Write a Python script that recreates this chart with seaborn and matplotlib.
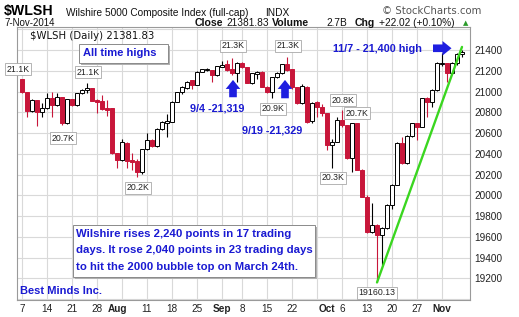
import matplotlib
matplotlib.use("Agg")
import matplotlib.pyplot as plt
import seaborn as sns
import pandas as pd
import numpy as np
from matplotlib.patches import Rectangle

# ---------------- data ----------------
opens = [21117, 20998, 20815, 20918, 20806,
         20838, 20934, 20870, 20944, 20693,
         20924, 20870, 20982, 21014, 21030,
         20918, 20912, 20838, 20838, 20404,
         20340, 20507, 20340, 20334, 20228,
         20443, 20533, 20475, 20636, 20700,
         20709, 20902, 20998, 21030, 21111,
         21062, 21191, 21207, 21207, 21159,
         21240, 21265, 21213, 21175,
         21278, 21233, 21085, 21170, 21191,
         21046, 20998, 21136, 21175, 21265,
         21213, 21040, 20890, 21046, 20720,
         20902, 20854, 20790, 20485, 20517,
         20726, 20677, 20356, 20694, 20244,
         19987, 19650, 19714, 19618, 19682,
         19907, 20100, 20501, 20309, 20572,
         20694, 20662, 20935, 20903, 21015,
         21265, 21272, 21176, 21272, 21360]
highs = [21125, 21000, 20925, 20922, 20886,
         20982, 20998, 20982, 20950, 20930,
         20930, 20990, 21025, 21078, 21035,
         20930, 20966, 20918, 20840, 20410,
         20540, 20510, 20404, 20350, 20450,
         20600, 20545, 20645, 20715, 20780,
         20910, 21000, 21050, 21100, 21115,
         21195, 21220, 21225, 21210, 21250,
         21297, 21300, 21319, 21285,
         21285, 21240, 21180, 21200, 21195,
         21050, 21140, 21190, 21270, 21329,
         21215, 21045, 21069, 21050, 20900,
         20910, 20880, 20795, 20540, 20758,
         20822, 20680, 20700, 20700, 20250,
         20000, 19923, 19720, 19690, 19920,
         20110, 20510, 20565, 20580, 20700,
         20700, 20940, 20945, 21020, 21280,
         21368, 21275, 21280, 21370, 21405]
lows = [20990, 20757, 20805, 20668, 20757,
        20830, 20757, 20865, 20677, 20690,
        20860, 20865, 20975, 20982, 20905,
        20790, 20825, 20764, 20400, 20260,
        20335, 20260, 20244, 20180, 20210,
        20440, 20465, 20470, 20630, 20565,
        20705, 20895, 20980, 21025, 21021,
        21060, 21185, 21195, 21095, 21150,
        21235, 21200, 21160, 21095,
        21225, 21080, 21070, 21120, 21040,
        20990, 20934, 21130, 21170, 21200,
        21025, 20880, 20880, 20700, 20700,
        20750, 20760, 20440, 20260, 20510,
        20660, 20350, 20228, 20240, 19980,
        19640, 19640, 19160.13, 19329, 19675,
        19870, 20095, 20300, 20300, 20565,
        20533, 20655, 20758, 20850, 21010,
        21250, 21095, 21170, 21260, 21330]
closes = [20998, 20815, 20918, 20806, 20838,
          20934, 20870, 20944, 20693, 20924,
          20870, 20982, 21014, 21030, 20912,
          20902, 20831, 20822, 20404, 20340,
          20517, 20334, 20324, 20228, 20443,
          20533, 20475, 20636, 20709, 20719,
          20902, 20998, 21046, 21095, 21062,
          21191, 21213, 21213, 21159, 21246,
          21255, 21207, 21175, 21278,
          21233, 21085, 21175, 21192, 21046,
          20998, 21136, 21175, 21265, 21207,
          21040, 20890, 21050, 20709, 20890,
          20854, 20790, 20485, 20517, 20726,
          20677, 20356, 20694, 20244, 19987,
          19650, 19714, 19618, 19682, 19907,
          20100, 20501, 20309, 20572, 20694,
          20662, 20935, 20903, 21015, 21272,
          21272, 21176, 21272, 21360, 21381.83]

tick_pos = [0, 5, 10, 15, 19, 25, 30, 35, 40, 44, 49, 54, 61, 64, 69, 74, 79, 84]
tick_labels = ["7", "14", "21", "28", "Aug", "11", "18", "25", "Sep", "8",
               "15", "22", "Oct", "6", "13", "20", "27", "Nov"]
week_grid = [0, 5, 10, 15, 20, 25, 30, 35, 40, 44, 49, 54, 59, 64, 69, 74, 79, 84]
y_ticks = [19200, 19400, 19600, 19800, 20000, 20200, 20400, 20600, 20800, 21000, 21200, 21400]

# peak / trough labels: (index, value, text)
peak_labels = [(-0.8, 21217, "21.1K"), (13.2, 21188, "21.1K"), (8.2, 20552, "20.7K"),
               (23.2, 20071, "20.2K"), (42.2, 21439, "21.3K"), (53.2, 21439, "21.3K"),
               (50.2, 20832, "20.9K"), (64.2, 20918, "20.8K"), (67.0, 20793, "20.7K"),
               (62.2, 20167, "20.3K"), (71.0, 19059, "19160.13")]

trend_x = [71, 88]
trend_y = [19160.13, 21430]

df = pd.DataFrame({"i": range(len(closes)), "open": opens, "high": highs,
                   "low": lows, "close": closes})

# ---------------- style ----------------
sns.set_style("white")
plt.rcParams["font.family"] = ["Liberation Sans", "DejaVu Sans"]

W, H = 519, 317
fig = plt.figure(figsize=(W / 100, H / 100), dpi=100)
ax = fig.add_axes([17 / W, 1 - 300 / H, (470 - 17) / W, (300 - 27) / H])
ax.set_xlim(-1, 89.6)
ax.set_ylim(18991, 21622)

RED = "#c8163a"
BLUE = "#1a1ad2"
GRID = "#d9d9d9"

# grid
for g in range(19000, 21700, 200):
    ax.axhline(g, color=GRID, lw=0.8, zorder=0)
for g in week_grid:
    ax.axvline(g, color=GRID, lw=0.8, zorder=0)

# candles
for _, r in df.iterrows():
    up = r["close"] >= r["open"]
    col = "black" if up else RED
    ax.vlines(r["i"], r["low"], r["high"], color=col, lw=0.8, zorder=2)
    lo = min(r["open"], r["close"])
    h = max(abs(r["close"] - r["open"]), 6)
    ax.bar(r["i"], h, bottom=lo, width=0.8,
           color="white" if up else RED, edgecolor="black" if up else RED,
           lw=0.7, zorder=3)

# trend line
sns.lineplot(x=trend_x, y=trend_y, ax=ax, color="#3ad620", lw=1.7, zorder=4)

# axes formatting
ax.yaxis.tick_right()
ax.set_yticks(y_ticks)
ax.set_yticklabels([str(v) for v in y_ticks], fontsize=7.2, color="#222222")
ax.set_xticks(tick_pos)
ax.set_xticklabels(tick_labels, fontsize=7.2, color="#222222")
for lbl in ax.get_xticklabels():
    if lbl.get_text() in ("Aug", "Sep", "Oct", "Nov"):
        lbl.set_fontweight("bold")
ax.tick_params(axis="both", length=0, pad=3)
for s in ax.spines.values():
    s.set_color("#9a9a9a")
    s.set_linewidth(0.8)
ax.set_xlabel("")
ax.set_ylabel("")

# peak labels
for xi, yv, t in peak_labels:
    ax.text(xi, yv, t, fontsize=6.3, ha="center", va="center", color="#222222", zorder=6,
            bbox=dict(boxstyle="square,pad=0.18", fc="white", ec="#a8a8a8", lw=0.6))

# legend text
ax.text(0.028, 0.967, "$WLSH (Daily) 21381.83", transform=ax.transAxes, fontsize=7.3,
        family="DejaVu Sans", ha="left", va="center", color="#111111")

# blue annotations
ax.text(39.0, 20832, "9/4 -21,319", color=BLUE, fontsize=7.8, fontweight="bold",
        ha="center", va="center", zorder=6)
ax.text(50.0, 20629, "9/19 -21,329", color=BLUE, fontsize=7.8, fontweight="bold",
        ha="center", va="center", zorder=6)
ax.text(71.0, 21410, "11/7 - 21,400 high", color=BLUE, fontsize=7.8, fontweight="bold",
        ha="center", va="center", zorder=6)

arrow_kw = dict(arrowstyle="simple,head_width=1.05,head_length=0.65,tail_width=0.55",
                color="#1f1fe0", lw=0, shrinkA=0, shrinkB=0)
ax.annotate("", xy=(42.2, 21112), xytext=(42.2, 20945), arrowprops=arrow_kw, zorder=6)
ax.annotate("", xy=(52.6, 21112), xytext=(52.6, 20935), arrowprops=arrow_kw, zorder=6)
ax.annotate("", xy=(85.9, 21417), xytext=(82.2, 21417), arrowprops=arrow_kw, zorder=6)

# boxes in pixel coordinates
def px_box(x0, y0, x1, y1):
    fx0, fx1 = x0 / W, x1 / W
    fy0, fy1 = 1 - y1 / H, 1 - y0 / H
    fig.patches.append(Rectangle((fx0 + 2 / W, fy0 - 2 / H), fx1 - fx0, fy1 - fy0,
                                 transform=fig.transFigure, fc="#b0b0b0", ec="none", zorder=5))
    fig.patches.append(Rectangle((fx0, fy0), fx1 - fx0, fy1 - fy0,
                                 transform=fig.transFigure, fc="white", ec="#8a8a8a",
                                 lw=0.7, zorder=6))

px_box(79, 44, 168, 63)
fig.text(83 / W, 1 - 53.5 / H, "All time highs", color=BLUE, fontsize=8, fontweight="bold",
         ha="left", va="center", zorder=7)

px_box(73, 225, 315, 277)
for k, line in enumerate(["Wilshire rises 2,240 points in 17 trading",
                          "days. It rose 2,040 points in 23 trading days",
                          "to hit the 2000 bubble top on March 24th."]):
    fig.text(76 / W, 1 - (234 + 16.3 * k) / H, line, color=BLUE, fontsize=8.2,
             fontweight="bold", ha="left", va="center", zorder=7)

fig.text(20 / W, 1 - 291 / H, "Best Minds Inc.", color=BLUE, fontsize=8, fontweight="bold",
         ha="left", va="center", zorder=7)

# header
def ftxt(x, y, s, **kw):
    fig.text(x / W, 1 - y / H, s, ha="left", va="baseline", **kw)

ftxt(4, 15.5, "$WLSH", fontsize=10.2, fontweight="bold", color="black")
ftxt(66, 15.5, "Wilshire 5000 Composite Index (full-cap)", fontsize=7.3, color="#111111")
ftxt(265, 15.5, "INDX", fontsize=7.3, color="#111111")
ftxt(382, 14.5, "\u00a9 StockCharts.com", fontsize=7.3, color="#555555", family="DejaVu Sans")
ftxt(4, 26.5, "7-Nov-2014", fontsize=7.0, color="#111111")
ftxt(195, 26, "Close", fontsize=7.6, fontweight="bold", color="#111111")
ftxt(226, 26, "21381.83", fontsize=7.3, color="#111111")
ftxt(272, 26, "Volume", fontsize=7.6, fontweight="bold", color="#111111")
ftxt(326, 26, "2.7B", fontsize=7.3, color="#111111")
ftxt(355, 26, "Chg", fontsize=7.6, fontweight="bold", color="#111111")
ftxt(379, 26, "+22.02 (+0.10%)", fontsize=7.3, color="#111111")
fig.text(466 / W, 1 - 23 / H, "\u25b2", fontsize=5, color="#2a9a2a", ha="center", va="center",
         family="DejaVu Sans")

fig.savefig("out.png", dpi=100)
